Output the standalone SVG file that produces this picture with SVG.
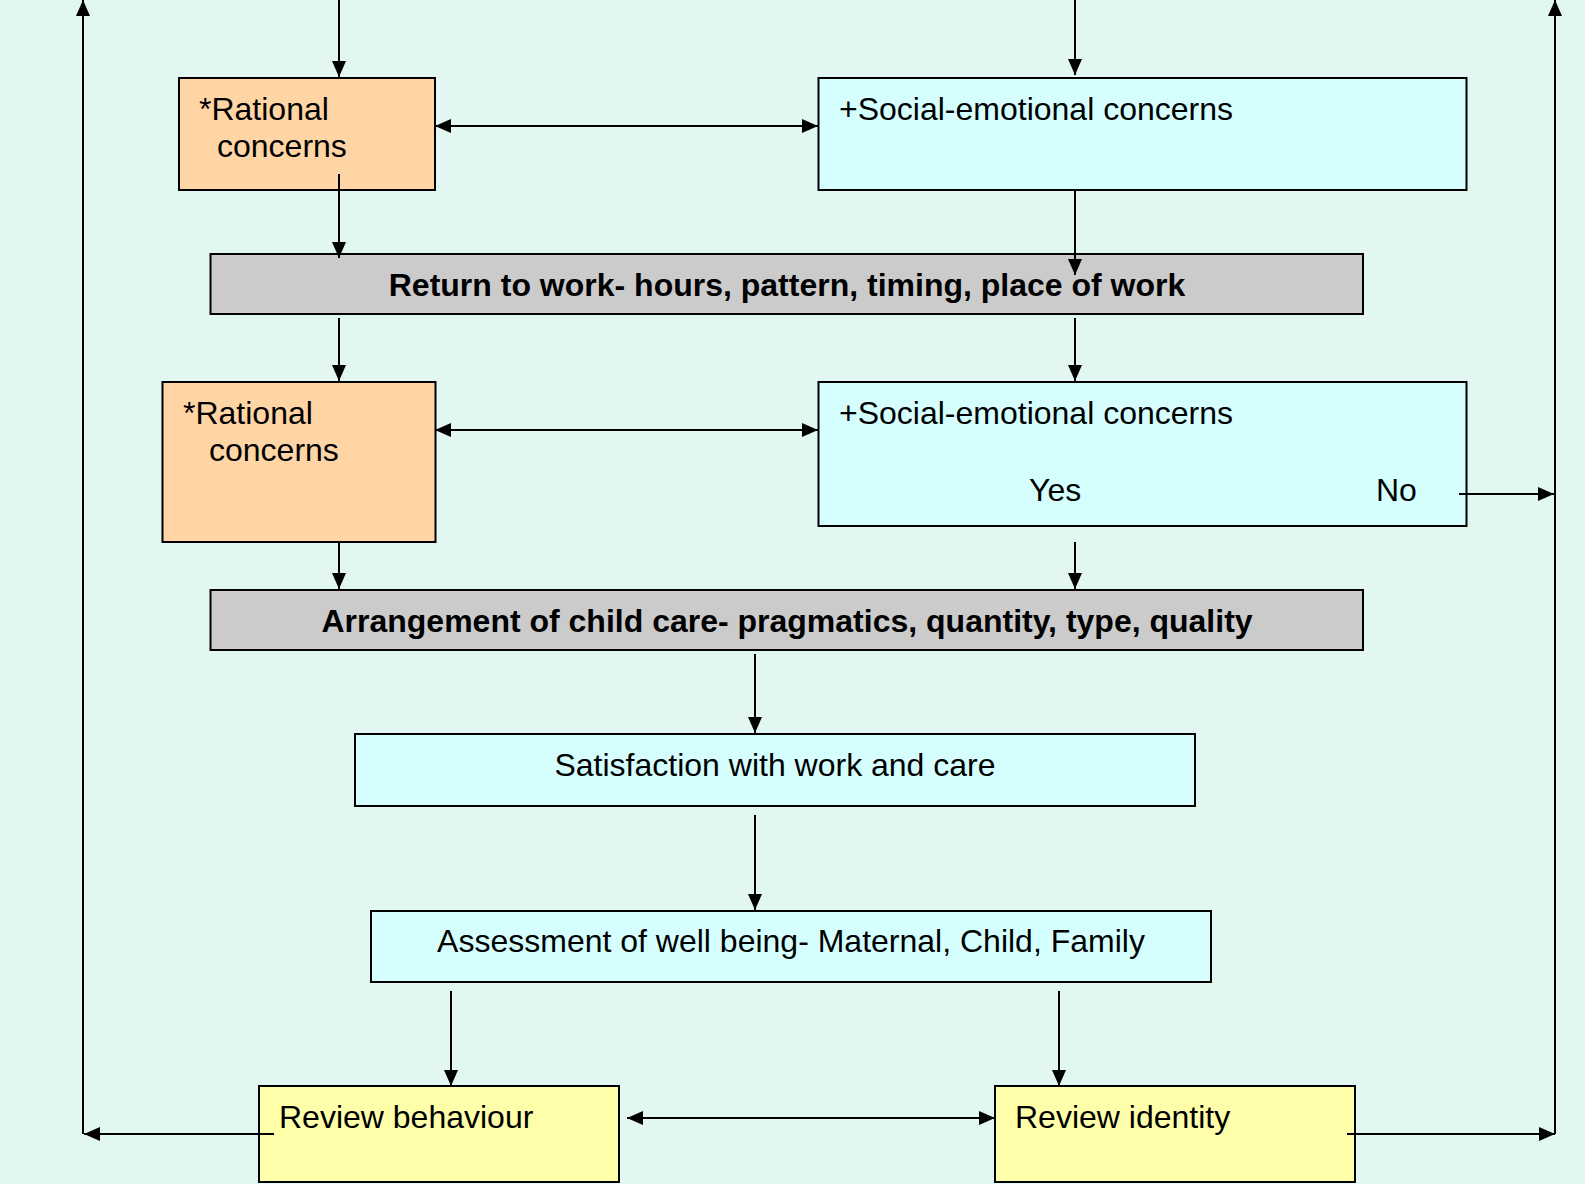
<svg xmlns="http://www.w3.org/2000/svg" width="1585" height="1184" viewBox="0 0 1585 1184">
  <style>
    .box { stroke: #000; stroke-width: 2; }
    .peach { fill: #FFD5A5; }
    .cyan { fill: #D5FFFF; }
    .grey { fill: #CBCBCB; }
    .yellow { fill: #FFFFAA; }
    .t { font-family: "Liberation Sans", Arial, sans-serif; font-size: 32px; fill: #000; }
    .b { font-weight: bold; }
    .c { text-anchor: middle; }
    .conn line, .conn path { stroke: #000; stroke-width: 2; fill: none; }
  </style>
  <defs>
    <marker id="ah" markerUnits="userSpaceOnUse" markerWidth="16" markerHeight="14" refX="16" refY="7" orient="auto-start-reverse">
      <path d="M0,0 L16,7 L0,14 z" fill="#000"/>
    </marker>
  </defs>
  <rect x="0" y="0" width="1585" height="1184" fill="#E2F7F2"/>

  <g id="rational1">
    <rect class="box peach" x="179" y="78" width="256" height="112"/>
    <text class="t" x="199" y="120">*Rational</text>
    <text class="t" x="217" y="157">concerns</text>
  </g>
  <g id="social1">
    <rect class="box cyan" x="818.5" y="78" width="648" height="112"/>
    <text class="t" x="839" y="120">+Social-emotional concerns</text>
  </g>
  <g id="return-to-work">
    <rect class="box grey" x="210.5" y="254" width="1152.5" height="60"/>
    <text class="t b c" x="787" y="296">Return to work- hours, pattern, timing, place of work</text>
  </g>
  <g id="rational2">
    <rect class="box peach" x="162.5" y="382" width="273" height="160"/>
    <text class="t" x="183" y="424">*Rational</text>
    <text class="t" x="209" y="461">concerns</text>
  </g>
  <g id="social2">
    <rect class="box cyan" x="818.5" y="382" width="648" height="144"/>
    <text class="t" x="839" y="424">+Social-emotional concerns</text>
    <text class="t" x="1029" y="501">Yes</text>
    <text class="t" x="1376" y="501">No</text>
  </g>
  <g id="arrangement">
    <rect class="box grey" x="210.5" y="590" width="1152.5" height="60"/>
    <text class="t b c" x="787" y="632">Arrangement of child care- pragmatics, quantity, type, quality</text>
  </g>
  <g id="satisfaction">
    <rect class="box cyan" x="355" y="734" width="840" height="72"/>
    <text class="t c" x="775" y="776">Satisfaction with work and care</text>
  </g>
  <g id="assessment">
    <rect class="box cyan" x="371" y="911" width="840" height="71"/>
    <text class="t c" x="791" y="952">Assessment of well being- Maternal, Child, Family</text>
  </g>
  <g id="review-behaviour">
    <rect class="box yellow" x="259" y="1086" width="360" height="96"/>
    <text class="t" x="279" y="1128">Review behaviour</text>
  </g>
  <g id="review-identity">
    <rect class="box yellow" x="995" y="1086" width="360" height="96"/>
    <text class="t" x="1015" y="1128">Review identity</text>
  </g>

  <g id="connectors" class="conn">
    <line x1="339" y1="0" x2="339" y2="77" marker-end="url(#ah)"/>
    <line x1="1075" y1="0" x2="1075" y2="75" marker-end="url(#ah)"/>
    <line x1="435" y1="126" x2="818" y2="126" marker-start="url(#ah)" marker-end="url(#ah)"/>
    <line x1="339" y1="174" x2="339" y2="258" marker-end="url(#ah)"/>
    <line x1="1075" y1="190" x2="1075" y2="275" marker-end="url(#ah)"/>
    <line x1="339" y1="318" x2="339" y2="381" marker-end="url(#ah)"/>
    <line x1="1075" y1="318" x2="1075" y2="381" marker-end="url(#ah)"/>
    <line x1="435" y1="430" x2="818" y2="430" marker-start="url(#ah)" marker-end="url(#ah)"/>
    <line x1="339" y1="542" x2="339" y2="589" marker-end="url(#ah)"/>
    <line x1="1075" y1="542" x2="1075" y2="589" marker-end="url(#ah)"/>
    <line x1="1459" y1="494" x2="1554" y2="494" marker-end="url(#ah)"/>
    <line x1="755" y1="654" x2="755" y2="733" marker-end="url(#ah)"/>
    <line x1="755" y1="815" x2="755" y2="910" marker-end="url(#ah)"/>
    <line x1="451" y1="991" x2="451" y2="1086" marker-end="url(#ah)"/>
    <line x1="1059" y1="991" x2="1059" y2="1086" marker-end="url(#ah)"/>
    <line x1="627" y1="1118" x2="995" y2="1118" marker-start="url(#ah)" marker-end="url(#ah)"/>
    <line x1="274" y1="1134" x2="84" y2="1134" marker-end="url(#ah)"/>
    <line x1="83" y1="1134" x2="83" y2="0" marker-end="url(#ah)"/>
    <line x1="1347" y1="1134" x2="1555" y2="1134" marker-end="url(#ah)"/>
    <line x1="1555" y1="1134" x2="1555" y2="0" marker-end="url(#ah)"/>
  </g>
</svg>
